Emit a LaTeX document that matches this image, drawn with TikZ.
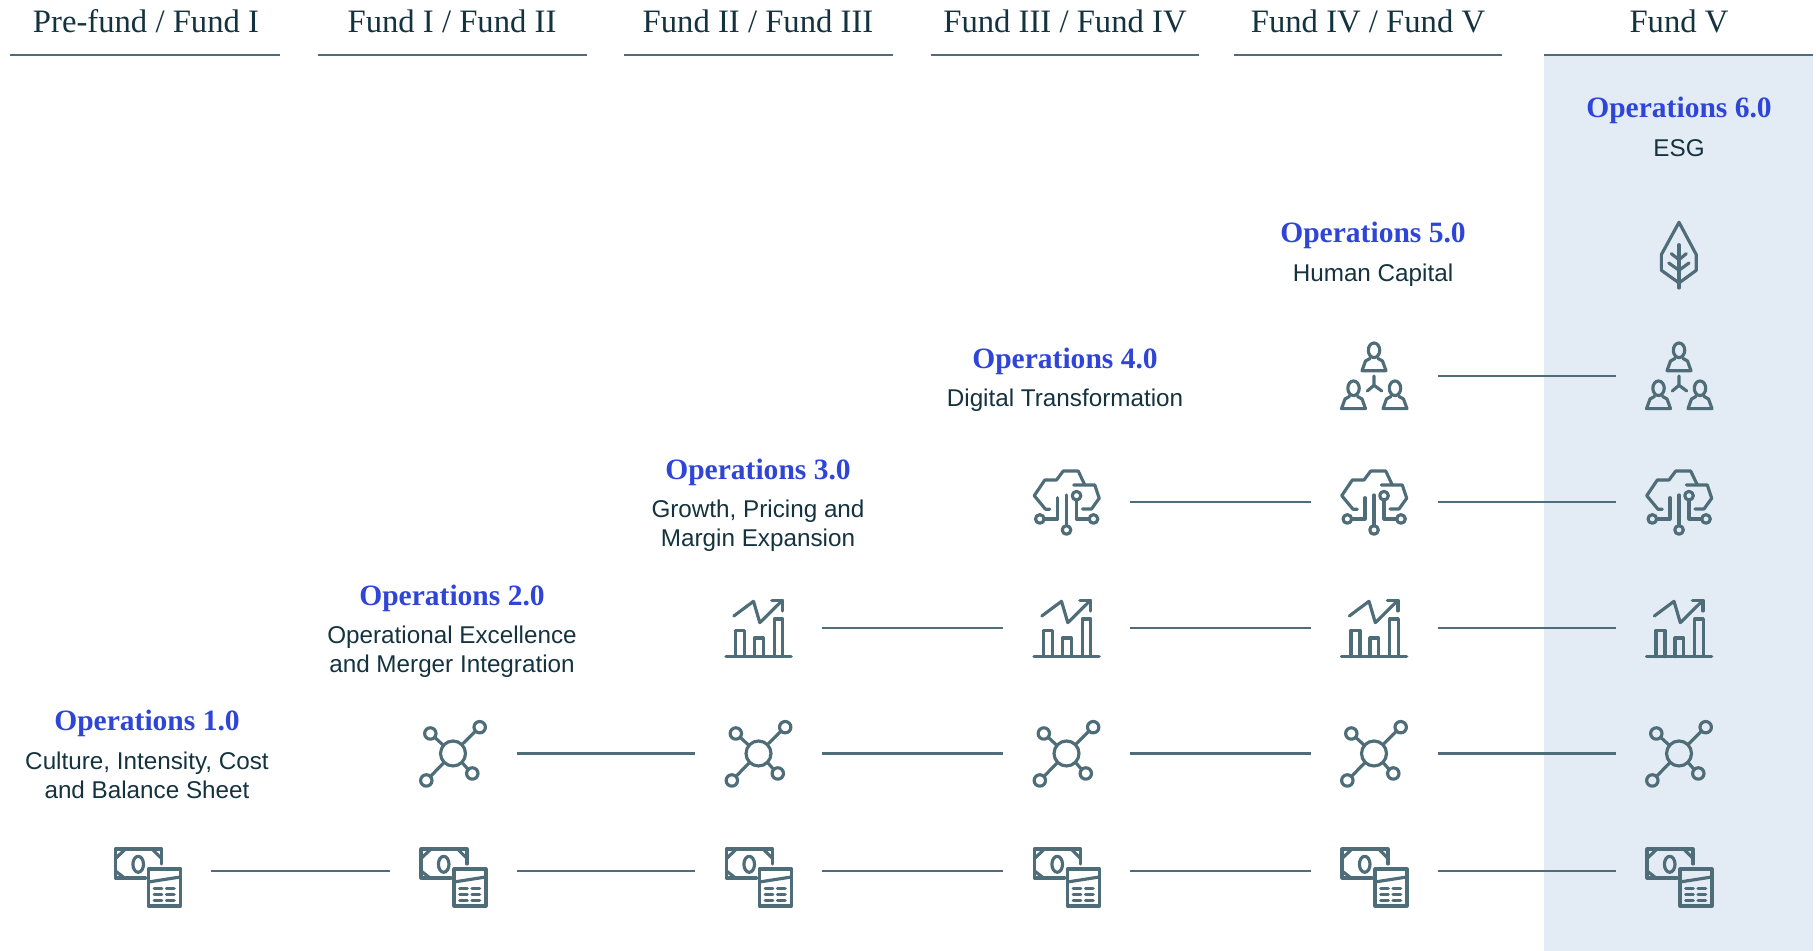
\documentclass[tikz,border=0pt]{standalone}
\usepackage{fontspec}
\setmainfont{Liberation Serif}
\newfontfamily\labelfont{Liberation Sans}
\definecolor{iconslate}{HTML}{4F6D78}
\definecolor{inkdark}{HTML}{14333F}
\definecolor{opsblue}{HTML}{2F45D8}
\definecolor{panelblue}{HTML}{E3ECF4}
\tikzset{
iconline/.style={draw=iconslate,line width=0.9pt,line join=round,line cap=round},
iconbox/.style={rectangle,minimum width=1.27cm,minimum height=0.8cm,inner sep=0pt,outer sep=0pt},
linkline/.style={draw=iconslate,line width=0.8pt},
fundrule/.style={draw=iconslate,line width=0.8pt},
fundhead/.style={anchor=base,text=inkdark,font=\fontsize{9.3}{11}\selectfont},
opshead/.style={anchor=base,text=opsblue,font=\fontsize{8.4}{10}\selectfont\bfseries},
opssub/.style={anchor=north,align=center,text=inkdark,font=\labelfont\fontsize{6.9}{8.25}\selectfont},
pics/moneyicon/.style={code={\begin{scope}[scale=0.01]
\draw[iconline](-2,-7)--(-32,-7)--(-32,22)--(14,22)--(14,7);
\draw[iconline](-32,12.5)--(-22,22)(4.5,22)--(14,12.5)(-32,0)--(-23,-7);
\draw[iconline](-9.3,6.7)circle[x radius=5.3,y radius=8];
\draw[iconline](1,-35)rectangle(33,2);
\draw[iconline](1,-11)--(33,-6);
\foreach \ky in {-17.7,-23.5,-29.3}{\draw[iconline](6.7,\ky)--(14.3,\ky)(19,\ky)--(26.7,\ky);}
\end{scope}}},
pics/hubicon/.style={code={\begin{scope}[scale=0.01]
\draw[iconline](0,0)circle[radius=12.5];
\draw[iconline](26.7,26.3)circle[radius=5.7](-22.7,20)circle[radius=5.7](19.3,-20)circle[radius=5.7](-26.7,-27)circle[radius=5.7];
\draw[iconline](9,9)--(22.6,22.4)(-9.5,8)--(-18.4,16.2)(9,-9)--(15.2,-16)(-9,-9)--(-22.6,-23);
\end{scope}}},
pics/charticon/.style={code={\begin{scope}[scale=0.01]
\draw[iconline](-32.7,-28.7)--(32.7,-28.7);
\draw[iconline](-23,-28.7)--(-23,-2.3)--(-14,-2.3)--(-14,-28.7);
\draw[iconline](-4,-28.7)--(-4,-10)--(4.7,-10)--(4.7,-28.7);
\draw[iconline](15.7,-28.7)--(15.7,9)--(24.3,9)--(24.3,-28.7);
\draw[iconline](-24.7,12)--(-5,26.7)--(1.3,5.3)--(24,27.7);
\draw[iconline](13.3,27.7)--(24,27.7)--(24,17);
\end{scope}}},
pics/cloudicon/.style={code={\begin{scope}[scale=0.01]
\draw[iconline](-16.7,-7.3)--(-21,-7.3)--(-32.3,6.3)--(-21.7,22)--(-10,22)--(-3.3,31)--(11.7,31)--(18.3,17);
\draw[iconline](7.3,17)--(28.3,17)--(32.7,3.7)--(25,-7)--(16,-7);
\draw[iconline](-26.7,-17)circle[radius=4.3](0,-28)circle[radius=4.3](10,6.3)circle[radius=4.3](27,-17)circle[radius=4.3];
\draw[iconline](-22.4,-17)--(-9,-17)--(-9,4.3);
\draw[iconline](0,-23.7)--(0,7);
\draw[iconline](10,2)--(10,-17)--(22.7,-17);
\end{scope}}},
pics/teamicon/.style={code={\begin{scope}[scale=0.01]
\foreach \kx/\ky in {0/0,-20.5/-38,21/-38}{
\draw[iconline,shift={(\kx,\ky)}](0,25.7)circle[x radius=5.7,y radius=7.3];
\draw[iconline,shift={(\kx,\ky)}](-4,17.5)--(-8.5,15)--(-12,5.3)--(12,5.3)--(8.5,15)--(4,17.5);
}
\draw[iconline](0,0)--(0,-9.3)--(-6.7,-15)(0,-9.3)--(7.7,-15);
\end{scope}}},
pics/leaficon/.style={code={\begin{scope}[scale=0.01]
\draw[iconline](0,32.7)--(17.3,0.3)--(17.3,-15.3)--(0,-28)--(-17.7,-15.3)--(-17.7,0.3)--cycle;
\draw[iconline](0,10.3)--(0,-33);
\draw[iconline](-7.7,1.3)--(0,-4.7)--(7.3,1.3);
\draw[iconline](-10.3,-8)--(0,-15.3)--(10,-8);
\end{scope}}}
}
\begin{document}
\begin{tikzpicture}
\useasboundingbox(0,0)rectangle(18.16,9.51);
\fill[panelblue](15.44,0)rectangle(18.13,8.96);
\draw[fundrule](0.105,8.96)--(2.795,8.96);
\draw[fundrule](3.175,8.96)--(5.865,8.96);
\draw[fundrule](6.24,8.96)--(8.93,8.96);
\draw[fundrule](9.305,8.96)--(11.985,8.96);
\draw[fundrule](12.335,8.96)--(15.02,8.96);
\draw[fundrule](15.44,8.96)--(18.13,8.96);
\node[fundhead](fund1)at(1.46,9.18){Pre-fund / Fund I};
\node[fundhead](fund2)at(4.52,9.18){Fund I / Fund II};
\node[fundhead](fund3)at(7.58,9.18){Fund II / Fund III};
\node[fundhead](fund4)at(10.65,9.18){Fund III / Fund IV};
\node[fundhead](fund5)at(13.68,9.18){Fund IV / Fund V};
\node[fundhead](fund6)at(16.79,9.18){Fund V};
\node[opshead](ops1)at(1.47,2.20){Operations 1.0};
\node[opshead](ops2)at(4.52,3.45){Operations 2.0};
\node[opshead](ops3)at(7.58,4.71){Operations 3.0};
\node[opshead](ops4)at(10.65,5.82){Operations 4.0};
\node[opshead](ops5)at(13.73,7.08){Operations 5.0};
\node[opshead](ops6)at(16.79,8.33){Operations 6.0};
\node[opssub](sub1)at(1.47,2.11){Culture, Intensity, Cost\\and Balance Sheet};
\node[opssub](sub2)at(4.52,3.37){Operational Excellence\\and Merger Integration};
\node[opssub](sub3)at(7.58,4.63){Growth, Pricing and\\Margin Expansion};
\node[opssub](sub4)at(10.65,5.74){Digital Transformation};
\node[opssub](sub5)at(13.73,6.99){Human Capital};
\node[opssub](sub6)at(16.79,8.24){ESG};
\pgfmathsetmacro{\ka}{0.80}
\node[iconbox](money1)at(1.475,\ka){};
\node[iconbox](money2)at(4.53,\ka){};
\node[iconbox](money3)at(7.585,\ka){};
\node[iconbox](money4)at(10.665,\ka){};
\node[iconbox](money5)at(13.74,\ka){};
\node[iconbox](money6)at(16.79,\ka){};
\pgfmathsetmacro{\ka}{1.975}
\node[iconbox](hub2)at(4.53,\ka){};
\node[iconbox](hub3)at(7.585,\ka){};
\node[iconbox](hub4)at(10.665,\ka){};
\node[iconbox](hub5)at(13.74,\ka){};
\node[iconbox](hub6)at(16.79,\ka){};
\pgfmathsetmacro{\ka}{3.23}
\node[iconbox](chart3)at(7.585,\ka){};
\node[iconbox](chart4)at(10.665,\ka){};
\node[iconbox](chart5)at(13.74,\ka){};
\node[iconbox](chart6)at(16.79,\ka){};
\pgfmathsetmacro{\ka}{4.49}
\node[iconbox](cloud4)at(10.665,\ka){};
\node[iconbox](cloud5)at(13.74,\ka){};
\node[iconbox](cloud6)at(16.79,\ka){};
\pgfmathsetmacro{\ka}{5.75}
\node[iconbox](team5)at(13.74,\ka){};
\node[iconbox](team6)at(16.79,\ka){};
\node[iconbox](leaf6)at(16.79,6.96){};
\foreach \kn in {1,...,6}{\pic at(money\kn){moneyicon};}
\foreach \kn in {2,...,6}{\pic at(hub\kn){hubicon};}
\foreach \kn in {3,...,6}{\pic at(chart\kn){charticon};}
\foreach \kn in {4,...,6}{\pic at(cloud\kn){cloudicon};}
\foreach \kn in {5,6}{\pic at(team\kn){teamicon};}
\pic at(leaf6){leaficon};
\draw[linkline](money1)--(money2);
\draw[linkline](money2)--(money3);
\draw[linkline](money3)--(money4);
\draw[linkline](money4)--(money5);
\draw[linkline](money5)--(money6);
\draw[linkline](hub2)--(hub3);
\draw[linkline](hub3)--(hub4);
\draw[linkline](hub4)--(hub5);
\draw[linkline](hub5)--(hub6);
\draw[linkline](chart3)--(chart4);
\draw[linkline](chart4)--(chart5);
\draw[linkline](chart5)--(chart6);
\draw[linkline](cloud4)--(cloud5);
\draw[linkline](cloud5)--(cloud6);
\draw[linkline](team5)--(team6);
\end{tikzpicture}
\end{document}
